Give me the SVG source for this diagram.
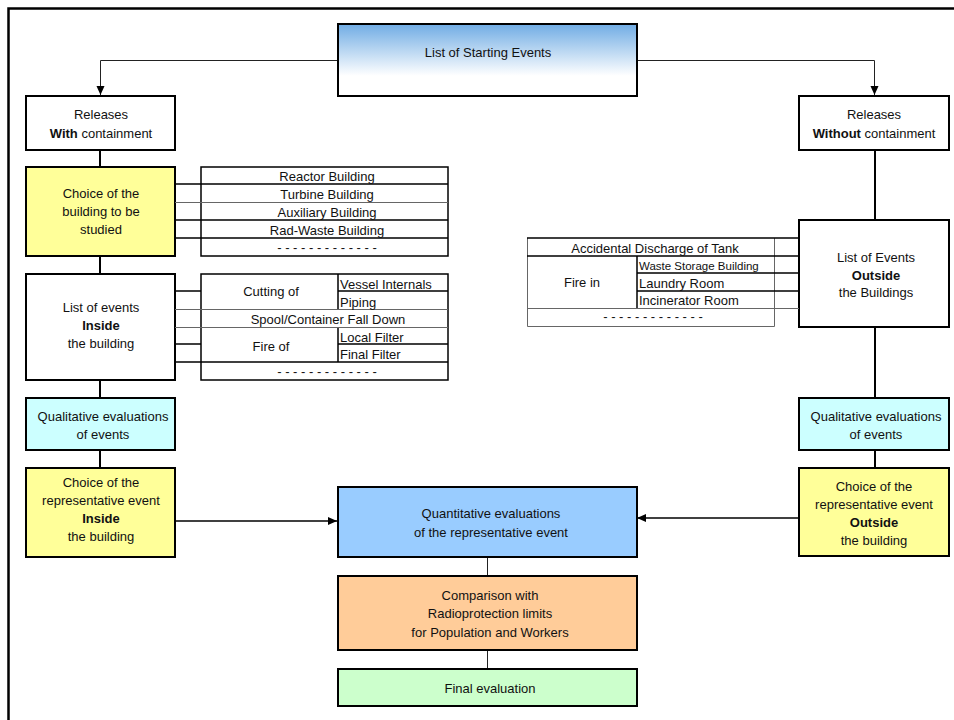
<svg xmlns="http://www.w3.org/2000/svg" width="954" height="720" viewBox="0 0 954 720">
<defs>
<linearGradient id="gTop" x1="0" y1="0" x2="0" y2="1">
<stop offset="0" stop-color="#70ace4"/>
<stop offset="0.72" stop-color="#ffffff"/>
<stop offset="1" stop-color="#ffffff"/>
</linearGradient>
<marker id="arr" markerWidth="10" markerHeight="10" refX="9" refY="5" orient="auto" markerUnits="userSpaceOnUse">
<path d="M0,1 L9,5 L0,9 Z" fill="#000"/>
</marker>
<style>
text{font-family:"Liberation Sans",Arial,sans-serif;font-size:13px;fill:#111;text-anchor:middle}
.b{font-weight:bold}
.l{text-anchor:start}
.s{font-size:11.5px}
.box{stroke:#000;stroke-width:2}
.ln{stroke:#000;stroke-width:1.5;fill:none}
.lg{stroke:#666;stroke-width:1;fill:none}
.cn{stroke:#000;stroke-width:2;fill:none}
.thin{stroke:#222;stroke-width:1;fill:none}
</style>
</defs>
<rect width="954" height="720" fill="#fff"/>
<path d="M8.5,720 V8.5 H954" fill="none" stroke="#000" stroke-width="2.5"/>

<g id="connectors">
<path class="thin" d="M338,60.5 H100.5 V95" marker-end="url(#arr)"/>
<path class="thin" d="M637,60.5 H874.5 V95" marker-end="url(#arr)"/>
<path class="cn" d="M100,150 V167"/>
<path class="cn" d="M100,256 V274"/>
<path class="cn" d="M100,380 V398"/>
<path class="cn" d="M100,450 V468"/>
<path class="cn" d="M875,150 V220"/>
<path class="cn" d="M875,327 V398"/>
<path class="cn" d="M875,450 V468"/>
<path class="ln" d="M175,521 H337" marker-end="url(#arr)"/>
<path class="ln" d="M799,518 H637" marker-end="url(#arr)"/>
<path class="thin" d="M487.5,557 V576"/>
<path class="thin" d="M487.5,650 V669"/>
</g>

<g id="start">
<rect class="box" x="338" y="24" width="299" height="72" fill="url(#gTop)"/>
<text x="488" y="57">List of Starting Events</text>
</g>

<g id="rel-with">
<rect class="box" x="26" y="96" width="149" height="54" fill="#fff"/>
<text x="101" y="119">Releases</text>
<text x="101" y="138"><tspan class="b">With</tspan> containment</text>
</g>

<g id="rel-without">
<rect class="box" x="799" y="96" width="150" height="54" fill="#fff"/>
<text x="874" y="119">Releases</text>
<text x="874" y="138"><tspan class="b">Without</tspan> containment</text>
</g>

<g id="choice-building">
<rect class="box" x="26" y="167" width="149" height="89" fill="#ffff99"/>
<text x="101" y="198">Choice of the</text>
<text x="101" y="216">building to be</text>
<text x="101" y="234">studied</text>
</g>

<g id="table-buildings">
<rect x="201" y="167" width="247" height="89" fill="#fff" stroke="#000" stroke-width="1.5"/>
<path class="ln" d="M175,184 H448 M175,220 H448 M175,238 H448"/>
<path class="lg" d="M175,202.5 H448"/>
<text x="327" y="181">Reactor Building</text>
<text x="327" y="199">Turbine Building</text>
<text x="327" y="217">Auxiliary Building</text>
<text x="327" y="235">Rad-Waste Building</text>
<text x="327" y="252">- - - - - - - - - - - - -</text>
</g>

<g id="list-inside">
<rect class="box" x="26" y="274" width="149" height="106" fill="#fff"/>
<text x="101" y="312">List of events</text>
<text x="101" y="330" class="b">Inside</text>
<text x="101" y="348">the building</text>
</g>

<g id="table-inside">
<rect x="201" y="274" width="247" height="106" fill="#fff" stroke="#000" stroke-width="1.5"/>
<path class="ln" d="M175,291 H201 M338,291 H448 M175,344 H201 M338,344 H448 M175,362 H448 M338,274 V309 M338,327 V362"/>
<path class="lg" d="M175,309.5 H448 M175,327.5 H448"/>
<text x="271" y="296">Cutting of</text>
<text x="340" y="289" class="l">Vessel Internals</text>
<text x="340" y="307" class="l">Piping</text>
<text x="328" y="324">Spool/Container Fall Down</text>
<text x="271" y="351">Fire of</text>
<text x="340" y="342" class="l">Local Filter</text>
<text x="340" y="359" class="l">Final Filter</text>
<text x="327" y="376">- - - - - - - - - - - - -</text>
</g>

<g id="qual-left">
<rect class="box" x="26" y="398" width="149" height="52" fill="#ccffff"/>
<text x="103" y="421">Qualitative evaluations</text>
<text x="103" y="439">of events</text>
</g>

<g id="choice-inside">
<rect class="box" x="26" y="468" width="149" height="89" fill="#ffff99"/>
<text x="101" y="487">Choice of  the</text>
<text x="101" y="505">representative event</text>
<text x="101" y="523" class="b">Inside</text>
<text x="101" y="541">the building</text>
</g>

<g id="list-outside">
<rect class="box" x="799" y="220" width="150" height="107" fill="#fff"/>
<text x="876" y="262">List of Events</text>
<text x="876" y="280" class="b">Outside</text>
<text x="876" y="297">the Buildings</text>
</g>

<g id="table-outside">
<path class="lg" d="M527.5,238 V326.5 H774.5 M774.5,238 V326.5"/>
<path class="ln" d="M527,238 H799 M527,256 H799 M637,273 H799 M637,291 H799 M637,256 V299"/>
<path class="lg" d="M527,308.5 H799"/>
<path class="ln" d="M637,299 V308"/>
<text x="655" y="253">Accidental Discharge of Tank</text>
<text x="582" y="287">Fire in</text>
<text x="639" y="270" class="l s">Waste Storage Building</text>
<text x="639" y="288" class="l">Laundry Room</text>
<text x="639" y="305" class="l">Incinerator Room</text>
<text x="653" y="321">- - - - - - - - - - - - -</text>
</g>

<g id="qual-right">
<rect class="box" x="799" y="398" width="150" height="52" fill="#ccffff"/>
<text x="876" y="421">Qualitative evaluations</text>
<text x="876" y="439">of events</text>
</g>

<g id="choice-outside">
<rect class="box" x="799" y="468" width="150" height="88" fill="#ffff99"/>
<text x="874" y="491">Choice of  the</text>
<text x="874" y="509">representative event</text>
<text x="874" y="527" class="b">Outside</text>
<text x="874" y="545">the building</text>
</g>

<g id="quant">
<rect class="box" x="338" y="487" width="299" height="70" fill="#99ccff"/>
<text x="491" y="518">Quantitative evaluations</text>
<text x="491" y="537">of the representative event</text>
</g>

<g id="comparison">
<rect class="box" x="338" y="576" width="299" height="74" fill="#ffcc99"/>
<text x="490" y="600">Comparison with</text>
<text x="490" y="618">Radioprotection limits</text>
<text x="490" y="637">for Population and Workers</text>
</g>

<g id="final">
<rect class="box" x="338" y="669" width="299" height="37" fill="#ccffcc"/>
<text x="490" y="693">Final evaluation</text>
</g>
</svg>
